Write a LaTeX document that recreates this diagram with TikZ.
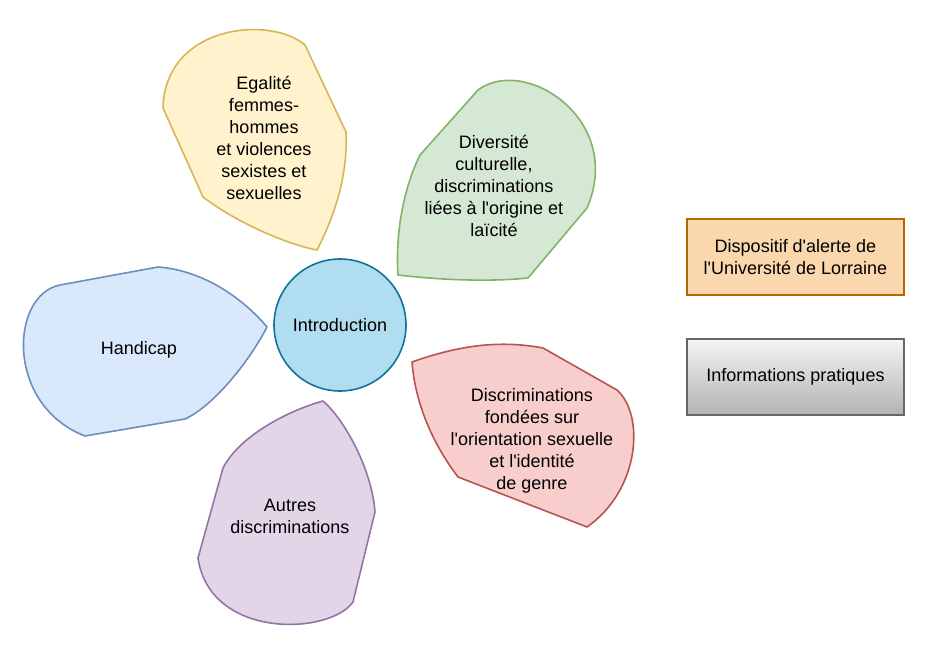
\documentclass[tikz,border=0pt]{standalone}
\usepackage{fontspec}
\setmainfont{Liberation Sans}
\usepackage{xcolor}
\usepackage{tikz}
\usetikzlibrary{shapes,backgrounds}

\definecolor{yelfill}{HTML}{FFF2CC}\definecolor{yeldraw}{HTML}{D6B656}
\definecolor{grefill}{HTML}{D5E8D4}\definecolor{gredraw}{HTML}{82B366}
\definecolor{blufill}{HTML}{DAE8FC}\definecolor{bludraw}{HTML}{6C8EBF}
\definecolor{redfill}{HTML}{F8CECC}\definecolor{reddraw}{HTML}{B85450}
\definecolor{purfill}{HTML}{E1D5E7}\definecolor{purdraw}{HTML}{9673A6}
\definecolor{cirfill}{HTML}{B1DDF0}\definecolor{cirdraw}{HTML}{10739E}
\definecolor{orafill}{HTML}{FAD7AC}\definecolor{oradraw}{HTML}{B46504}

\newcommand{\ap}{\textquotesingle}

\begin{document}
\begin{tikzpicture}
  [x=1pt,y=-1pt,
    every node/.style={font=\fontsize{18}{22}\selectfont,align=center},
    petal/.style={line width=1.6pt,line join=round},
    box/.style={draw,line width=1.2pt,minimum width=217pt,minimum height=76pt}]
  \useasboundingbox (0,0) rectangle (930,645);

  % petals
  \draw[petal,fill=yelfill,draw=yeldraw] (317,250) .. controls (335,215) and (348,175) .. (346,132)
    -- (305,45) .. controls (270,15) and (165,25) .. (163,108)
    -- (203,197) .. controls (240,225) and (290,245) .. (317,250) -- cycle;
  \draw[petal,fill=grefill,draw=gredraw] (398,275) .. controls (395,230) and (405,185) .. (420,155)
    -- (478,90) .. controls (525,55) and (625,120) .. (587,208)
    -- (528,278) .. controls (490,282) and (440,280) .. (398,275) -- cycle;
  \draw[petal,fill=blufill,draw=bludraw] (267,327) .. controls (240,295) and (200,270) .. (158,267)
    -- (60,285) .. controls (10,295) and (5,405) .. (85,436)
    -- (185,419) .. controls (215,405) and (250,360) .. (267,327) -- cycle;
  \draw[petal,fill=redfill,draw=reddraw] (412,362) .. controls (460,345) and (500,340) .. (543,348)
    -- (617,390) .. controls (645,415) and (640,490) .. (587,527)
    -- (458,477) .. controls (430,440) and (415,400) .. (412,362) -- cycle;
  \draw[petal,fill=purfill,draw=purdraw] (323,401) .. controls (345,420) and (372,470) .. (375,512)
    -- (353,602) .. controls (330,635) and (210,640) .. (198,558)
    -- (223,468) .. controls (240,435) and (290,410) .. (323,401) -- cycle;

  \node (egalite) at (264,138) {Egalité\\femmes-\\hommes\\et violences\\sexistes et\\sexuelles};
  \node (diversite) at (494,186) {Diversité\\culturelle,\\discriminations\\liées à l\ap origine et\\laïcité};
  \node (handicap) at (139,350) {Handicap};
  \node (orientation) at (532,441) {Discriminations\\fondées sur\\l\ap orientation sexuelle\\et l\ap identité\\de genre};
  \node (autres) at (290,516) {Autres\\discriminations};

  \node[circle,draw=cirdraw,fill=cirfill,line width=1.6pt,minimum size=132pt] (intro) at (340,325) {Introduction};

  \node[box,draw=oradraw,fill=orafill] (alerte) at (795.5,257) {Dispositif d\ap alerte de\\l\ap Université de Lorraine};
  \node[box,draw=black!60,top color=black!4,bottom color=black!30] (infos) at (795.5,377) {Informations pratiques};
\end{tikzpicture}
\end{document}
